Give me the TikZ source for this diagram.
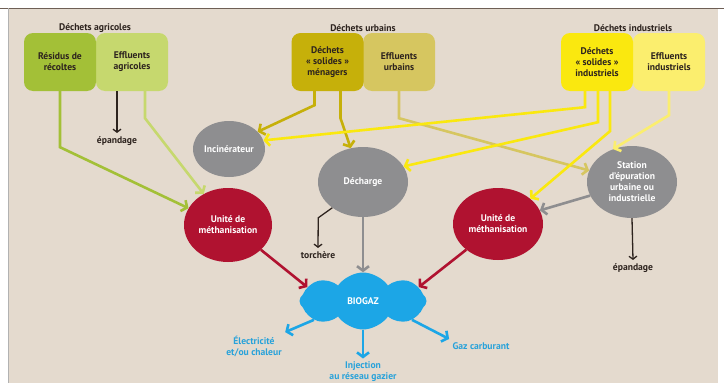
\documentclass[tikz,border=0pt]{standalone}
\usepackage{fontspec}
\setmainfont{PT Sans}
\usepackage{xcolor}
\usepackage{tikz}
\usetikzlibrary{shapes,shapes.geometric,shapes.symbols,arrows.meta,positioning,calc}

\definecolor{fond}{RGB}{228,218,206}
\definecolor{cadre}{RGB}{110,95,85}
\definecolor{txtfonce}{RGB}{45,35,30}
\definecolor{agriA}{RGB}{163,192,55}
\definecolor{agriB}{RGB}{198,216,110}
\definecolor{urbA}{RGB}{198,176,10}
\definecolor{urbB}{RGB}{214,198,96}
\definecolor{indA}{RGB}{250,232,15}
\definecolor{indB}{RGB}{251,238,110}
\definecolor{gris}{RGB}{142,142,144}
\definecolor{rouge}{RGB}{176,18,48}
\definecolor{bleu}{RGB}{28,166,230}
\definecolor{bleutxt}{RGB}{40,162,218}

\tikzset{
    txt/.style={font=\bfseries\fontsize{9.6}{11}\selectfont},
    box/.style={txt, rounded corners=9pt, minimum width=72pt, minimum height=58pt, inner sep=1pt, align=center, text=txtfonce},
    usine/.style={txt, ellipse, inner sep=0pt, align=center, text=white},
    lbl/.style={txt, align=center, text=txtfonce},
    fl/.style={line width=2.6pt, -{Straight Barb[length=4.5pt,width=12pt]}},
    noir/.style={line width=1.3pt, txtfonce, -{Straight Barb[length=3pt,width=8pt]}}
}

\begin{document}
\begin{tikzpicture}[x=1pt, y=-1pt]
        % Fond
        \useasboundingbox (0,0) rectangle (724,383);
        \fill[fond] (8,8) rectangle (718,383);
        \draw[cadre, line width=1pt] (0,8) -- (724,8);
        \draw[gray!60, line width=0.6pt] (8,8) -- (8,383);

        % Sources
        \node[lbl] (gagri) at (95,28) {Déchets agricoles};
        \node[box, fill=agriB] (effagri) at (132,62) {Effluents\\agricoles};
        \node[box, fill=agriA] (residus) at (60,62) {Résidus de\\récoltes};
        \node[lbl] (gurb) at (363,28) {Déchets urbains};
        \node[box, fill=urbB] (effurb) at (399,62) {Effluents\\urbains};
        \node[box, fill=urbA] (menag) at (327.5,62) {Déchets\\«~solides~»\\ménagers};
        \node[lbl] (gind) at (633,28) {Déchets industriels};
        \node[box, fill=indB] (effind) at (669,62) {Effluents\\industriels};
        \node[box, fill=indA] (solind) at (597,62) {Déchets\\«~solides~»\\industriels};

        % Traitements
        \node[usine, fill=gris, minimum width=72pt, minimum height=56pt] (incin) at (229,149) {Incinérateur};
        \node[usine, fill=gris, minimum width=90pt, minimum height=70pt] (decharge) at (363,182) {Décharge};
        \node[usine, fill=rouge, minimum width=88pt, minimum height=74pt] (metha1) at (228,225) {Unité de\\méthanisation};
        \node[usine, fill=gris, minimum width=90pt, minimum height=72pt] (station) at (632,182) {Station\\d'épuration\\urbaine ou\\industrielle};
        \node[usine, fill=rouge, minimum width=90pt, minimum height=72pt] (metha2) at (498,224) {Unité de\\méthanisation};
        \node[cloud, cloud puffs=8, cloud puff arc=110, aspect=2.3, fill=bleu, minimum width=127pt, minimum height=57pt, inner sep=0pt, txt, text=white] (biogaz) at (363,301) {BIOGAZ};

        % Sorties
        \node[lbl] (epand1) at (117,141) {épandage};
        \node[lbl] (torch) at (318,255) {torchère};
        \node[lbl] (epand2) at (633,268) {épandage};
        \node[lbl, text=bleutxt] (elec) at (254,346) {Électricité\\et/ou chaleur};
        \node[lbl, text=bleutxt] (inject) at (363,372) {Injection\\au réseau gazier};
        \node[lbl, text=bleutxt] (gaz) at (481,346) {Gaz carburant};

        % Flux agricoles
        \draw[fl, agriA] (residus.south) -- ++(0,56) -- (metha1.157);
        \draw[fl, agriB] ($(effagri.south)+(13,0)$) -- ++(0,27) -- (metha1.128);
        \draw[noir] ($(effagri.south)+(-15,0)$) -- (epand1.north);

        % Flux urbains
        \draw[fl, urbB] (effurb.south) -- ++(0,27) -- (station.165);
        \draw[fl, urbA] ($(menag.south)+(-13,0)$) -- ++(0,14) -- (incin.31);
        \draw[fl, urbA] ($(menag.south)+(13,0)$) -- ++(0,27) -- (decharge.110);

        % Flux industriels
        \draw[fl, indA] ($(solind.south)+(-12,0)$) -- ++(0,16) -- (incin.14);
        \draw[fl, indA] ($(solind.south)+(1,0)$) -- ++(0,31) -- (decharge.21);
        \draw[fl, indA] ($(solind.south)+(13,0)$) -- ++(0,40) -- (metha2.38);
        \draw[fl, indB] (effind.south) -- ++(0,24) -- (station.120);

        % Traitements -> biogaz
        \draw[fl, gris] (station.198) -- (metha2.18);
        \draw[noir] (decharge.220) -- ++(-14,10) -- (torch.north);
        \draw[noir] (station.south) -- (epand2.north);
        \draw[fl, gris] (decharge.south) -- (biogaz.north);
        \draw[fl, rouge] (metha1.-37) -- (biogaz.166);
        \draw[fl, rouge] (metha2.219) -- (biogaz.14);

        % Valorisation
        \draw[fl, bleu] (biogaz.201) -- (elec.north east);
        \draw[fl, bleu] (biogaz.south) -- (inject.north);
        \draw[fl, bleu] (biogaz.-21) -- (gaz.north west);
    \end{tikzpicture}
\end{document}
